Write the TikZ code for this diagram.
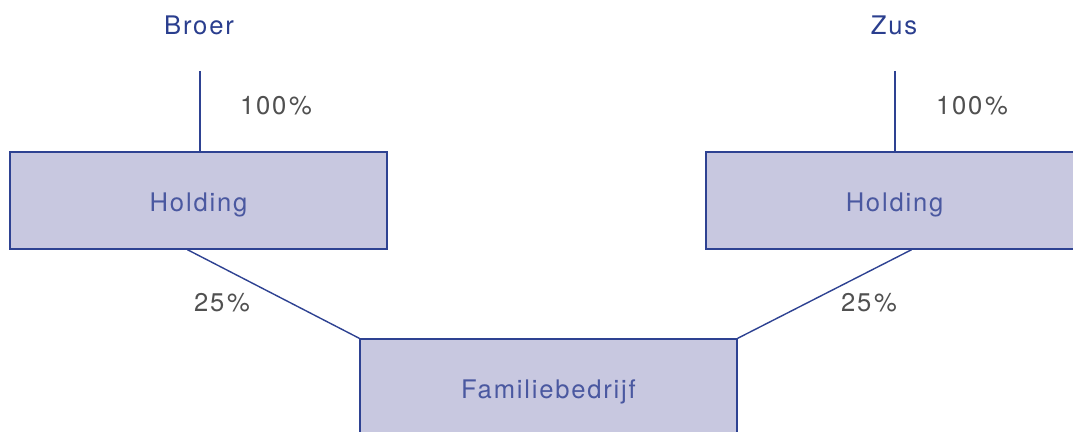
\documentclass[tikz,border=0pt]{standalone}
\usepackage{fontspec}
\setmainfont{TeX Gyre Heros}[LetterSpace=7]
\usetikzlibrary{calc}
\definecolor{lijn}{RGB}{46,66,146}
\definecolor{vlak}{RGB}{200,200,224}
\definecolor{naam}{RGB}{42,62,142}
\definecolor{boxtekst}{RGB}{74,88,160}
\definecolor{pct}{RGB}{80,80,80}
\newcommand{\pct}[1]{#1\kern2pt\%}
\begin{document}
\begin{tikzpicture}[x=0.025cm, y=-0.025cm,
	font=\fontsize{18.2}{20}\selectfont,
	entiteit/.style={draw=lijn, line width=1pt, fill=vlak, text=boxtekst,
		minimum width=9.425cm, minimum height=2.425cm, inner sep=0pt,
		text height=0.54cm, text depth=0pt},
	persoon/.style={text=naam, inner sep=0pt},
	aandeel/.style={text=pct, inner sep=0pt},
	verband/.style={draw=lijn, line width=1pt}]
	\useasboundingbox (0,0) rectangle (1073,432);
	\clip (0,0) rectangle (1073,432);
	% owners
	\node[persoon] (broer) at (199,25) {Broer};
	\node[persoon] (zus) at (894,25) {Zus};
	\coordinate (broerlijn) at (200,71);
	\coordinate (zuslijn) at (895,71);
	% holdings
	\node[entiteit] (hbroer) at (198.5,200.5) {Holding};
	\node[entiteit] (hzus) at (894.5,200.5) {Holding};
	% company
	\node[entiteit] (bedrijf) at (548.5,387.5) {Familiebedrijf};
	% shares
	\draw[verband] (broerlijn) -- (broerlijn |- hbroer.north);
	\draw[verband] (zuslijn) -- (zuslijn |- hzus.north);
	\draw[verband] ($(hbroer.south)+(-11,0)$) -- (bedrijf.north west);
	\draw[verband] ($(hzus.south)+(17,0)$) -- (bedrijf.north east);
	\node[aandeel] at (276,106) {\pct{100}};
	\node[aandeel] at (972,106) {\pct{100}};
	\node[aandeel] at (222,303) {\pct{25}};
	\node[aandeel] at (869,303) {\pct{25}};
\end{tikzpicture}
\end{document}
